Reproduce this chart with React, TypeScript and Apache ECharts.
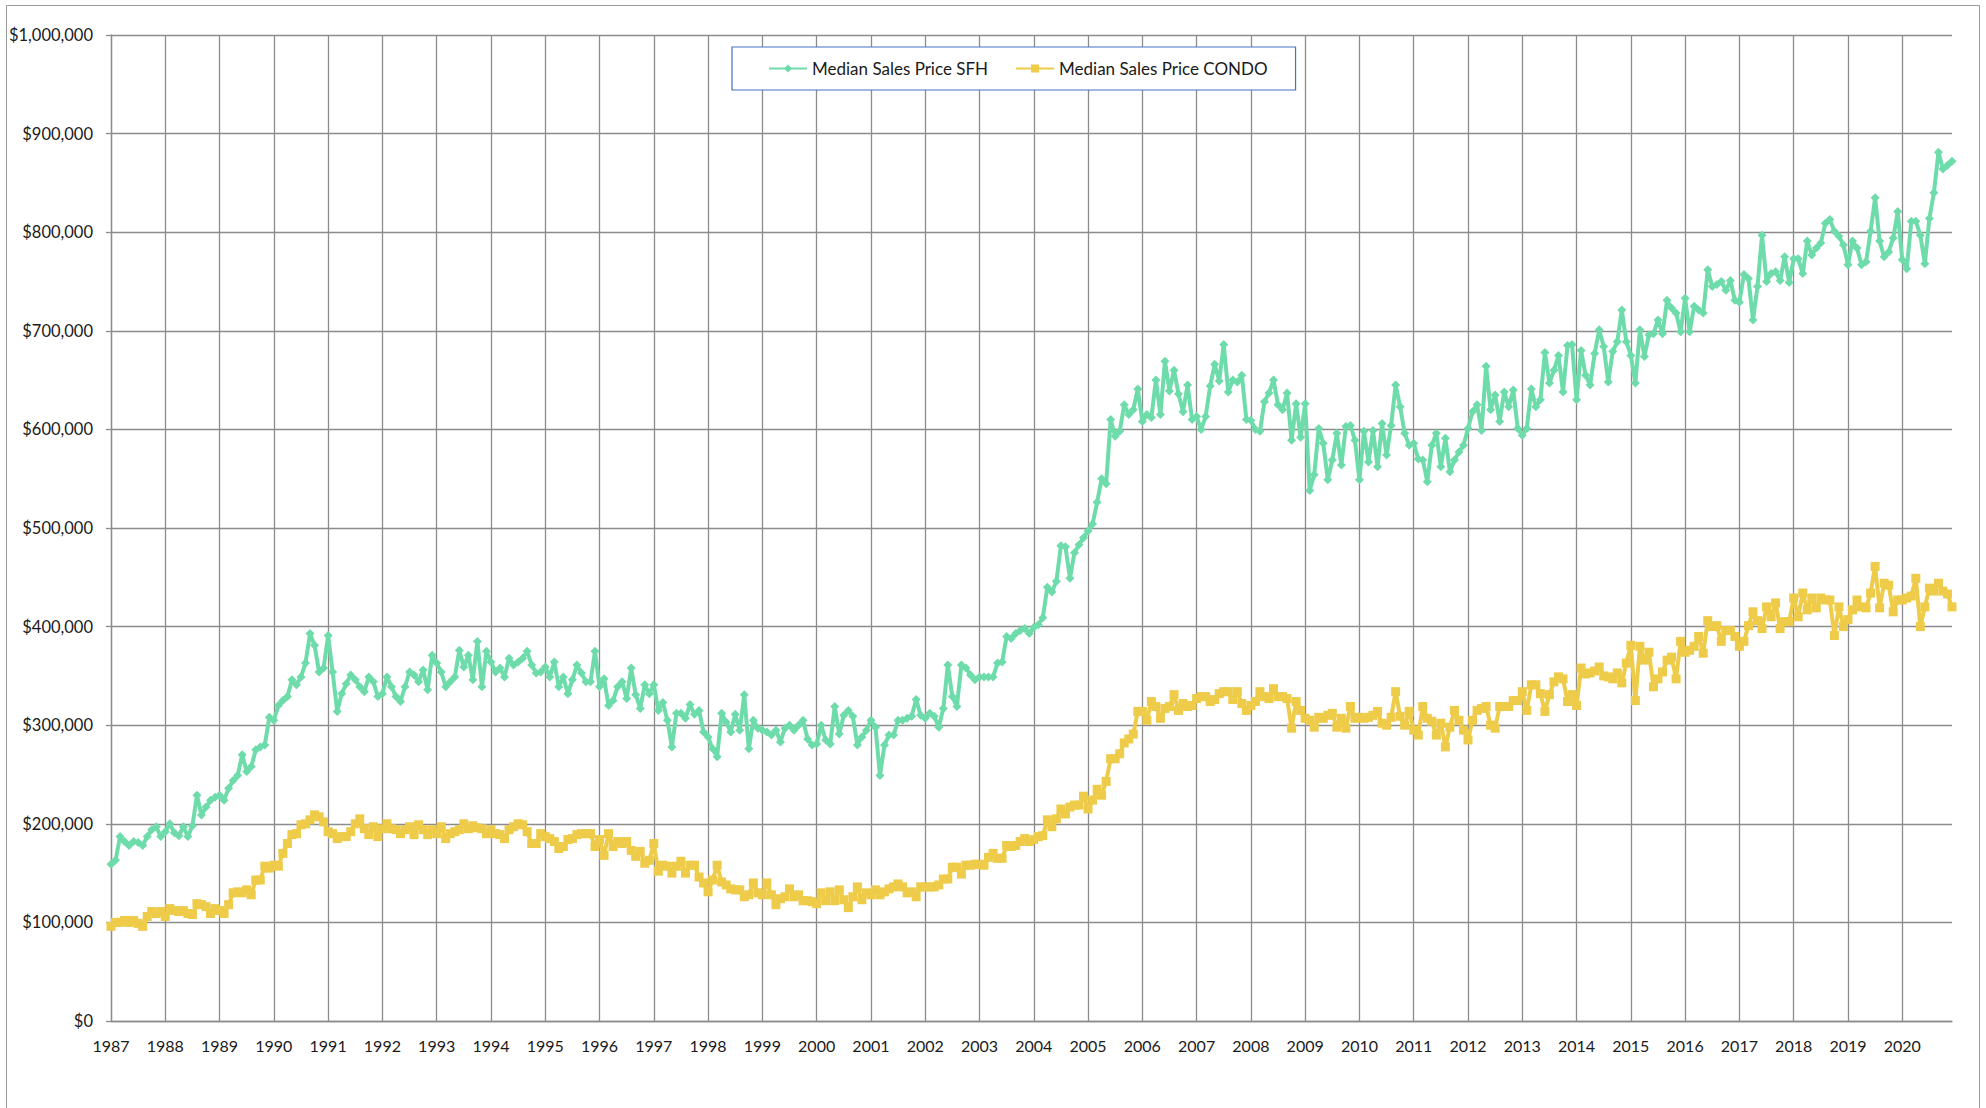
import React, { useEffect, useRef } from "react";
import * as echarts from "echarts";

// Years shown on the category axis (one label per January)
const YEARS = [
  1987, 1988, 1989, 1990, 1991, 1992, 1993, 1994, 1995, 1996, 1997, 1998,
  1999, 2000, 2001, 2002, 2003, 2004, 2005, 2006, 2007, 2008, 2009, 2010,
  2011, 2012, 2013, 2014, 2015, 2016, 2017, 2018, 2019, 2020,
];
const MONTHS = ["01", "02", "03", "04", "05", "06", "07", "08", "09", "10", "11", "12"];

// Median Sales Price SFH, monthly, in thousands of dollars
const SFH_1987_1996 = [
  159, 163, 187, 182, 178, 182, 181, 178, 187, 194, 197, 187,
  192, 200, 191, 188, 197, 187, 198, 229, 209, 217, 224, 227,
  229, 224, 236, 244, 249, 270, 253, 258, 275, 278, 280, 308,
  305, 320, 325, 329, 346, 341, 349, 363, 393, 381, 354, 358,
  391, 354, 314, 332, 342, 351, 346, 339, 334, 349, 344, 329,
  332, 349, 339, 329, 324, 339, 354, 351, 344, 356, 336, 371,
  363, 354, 339, 344, 349, 376, 359, 371, 346, 385, 339, 375,
  364, 354, 358, 349, 368, 361, 364, 368, 375, 361, 353, 354,
  359, 349, 364, 339, 349, 332, 346, 361, 353, 344, 344, 375,
  339, 347, 320, 325, 339, 344, 327, 358, 331, 317, 341, 332,
];
const SFH_1997_2006 = [
  341, 315, 323, 305, 278, 312, 312, 307, 321, 311, 315, 293,
  288, 276, 268, 312, 303, 293, 311, 295, 331, 276, 305, 297,
  295, 293, 290, 295, 283, 297, 300, 295, 300, 305, 286, 280,
  281, 300, 285, 281, 319, 291, 310, 315, 309, 280, 288, 295,
  305, 298, 249, 280, 290, 290, 305, 305, 307, 309, 326, 310,
  307, 312, 309, 298, 317, 361, 329, 319, 361, 358, 351, 346,
  349, 349, 349, 349, 363, 364, 390, 388, 393, 396, 398, 393,
  399, 402, 409, 440, 435, 446, 482, 481, 449, 475, 483, 490,
  497, 504, 526, 550, 545, 610, 593, 598, 625, 615, 620, 641,
  608, 615, 612, 650, 615, 669, 639, 660, 636, 618, 645, 610,
];
const SFH_2007_2016 = [
  613, 600, 613, 644, 666, 649, 686, 638, 650, 648, 655, 610,
  609, 600, 598, 628, 637, 650, 625, 620, 637, 589, 626, 592,
  626, 538, 554, 601, 586, 549, 569, 596, 564, 603, 604, 589,
  549, 598, 567, 599, 562, 606, 574, 604, 645, 623, 596, 584,
  586, 570, 569, 547, 584, 596, 562, 591, 557, 569, 577, 584,
  601, 618, 625, 599, 664, 620, 635, 608, 638, 623, 640, 601,
  594, 601, 641, 623, 630, 678, 647, 660, 675, 638, 685, 686,
  630, 680, 655, 645, 677, 701, 684, 648, 679, 689, 721, 689,
  675, 647, 701, 674, 696, 697, 711, 697, 731, 723, 718, 699,
  733, 699, 725, 721, 718, 762, 745, 747, 750, 741, 751, 731,
];
const SFH_2017_2020 = [
  729, 757, 753, 711, 745, 797, 750, 758, 760, 751, 775, 749,
  773, 773, 758, 791, 777, 784, 789, 809, 813, 801, 796, 787,
  767, 791, 784, 767, 770, 801, 835, 791, 775, 780, 794, 821,
  772, 763, 811, 811, 797, 768, 814, 840, 881, 864, 868, 872,
];

// Median Sales Price CONDO, monthly, in thousands of dollars
const CONDO_1987_1996 = [
  96, 100, 100, 102, 100, 102, 99, 96, 106, 111, 109, 111,
  106, 114, 112, 111, 112, 109, 108, 119, 118, 116, 109, 114,
  112, 109, 118, 130, 131, 130, 133, 128, 143, 143, 157, 155,
  158, 157, 170, 180, 189, 190, 199, 200, 204, 209, 207, 202,
  192, 190, 185, 187, 187, 192, 200, 205, 195, 189, 197, 187,
  195, 200, 195, 194, 190, 194, 197, 189, 199, 194, 189, 194,
  190, 197, 185, 190, 192, 194, 200, 195, 198, 196, 195, 190,
  194, 190, 189, 185, 194, 197, 200, 199, 192, 180, 180, 190,
  187, 185, 182, 175, 177, 184, 185, 189, 190, 190, 190, 177,
  184, 168, 190, 177, 182, 180, 182, 173, 167, 172, 160, 163,
];
const CONDO_1997_2006 = [
  180, 152, 158, 157, 150, 157, 162, 150, 158, 158, 146, 140,
  131, 143, 158, 141, 138, 134, 133, 133, 126, 128, 140, 130,
  128, 140, 128, 118, 124, 126, 134, 126, 128, 122, 122, 121,
  119, 130, 122, 131, 122, 133, 123, 115, 126, 136, 123, 130,
  128, 133, 128, 131, 134, 136, 139, 136, 130, 131, 126, 136,
  136, 136, 136, 138, 144, 144, 156, 156, 149, 158, 158, 159,
  159, 158, 166, 170, 165, 165, 178, 177, 178, 182, 185, 182,
  184, 187, 188, 204, 197, 205, 215, 210, 217, 219, 219, 228,
  215, 224, 235, 229, 243, 266, 266, 271, 282, 286, 291, 314,
  314, 305, 324, 319, 307, 317, 319, 331, 315, 322, 319, 320,
];
const CONDO_2007_2016 = [
  327, 329, 329, 324, 326, 332, 334, 334, 326, 334, 322, 315,
  320, 324, 334, 329, 327, 337, 329, 329, 327, 297, 324, 315,
  307, 305, 298, 308, 307, 310, 312, 298, 307, 297, 319, 307,
  308, 307, 308, 310, 314, 302, 300, 308, 334, 309, 300, 314,
  295, 290, 319, 307, 304, 290, 302, 278, 298, 315, 305, 295,
  285, 305, 315, 317, 319, 300, 297, 319, 319, 319, 325, 325,
  334, 315, 341, 341, 332, 314, 331, 344, 349, 347, 324, 331,
  320, 358, 352, 353, 355, 359, 350, 349, 347, 353, 343, 363,
  381, 325, 380, 366, 374, 339, 347, 354, 366, 369, 347, 385,
  374, 376, 380, 390, 373, 406, 400, 401, 385, 396, 396, 390,
];
const CONDO_2017_2020 = [
  380, 385, 401, 415, 406, 398, 420, 410, 424, 398, 405, 405,
  429, 410, 434, 417, 429, 419, 429, 427, 427, 391, 420, 400,
  407, 417, 427, 420, 419, 434, 461, 419, 444, 442, 415, 427,
  427, 429, 431, 449, 400, 420, 439, 436, 444, 436, 433, 420,
];

const SERIES_NAMES = ["Median Sales Price SFH", "Median Sales Price CONDO"];
const SERIES_COLORS = ["#6EDCAA", "#EECB48"];

const FONT = "Lato, 'Liberation Sans', sans-serif";

export default function App() {
  const ref = useRef<HTMLDivElement>(null);

  useEffect(() => {
    if (!ref.current) return;
    const chart = echarts.init(ref.current, undefined, { renderer: "svg" });

    const categories = YEARS.flatMap((y) => MONTHS.map((m) => `${y}-${m}`));
    const sfh = [...SFH_1987_1996, ...SFH_1997_2006, ...SFH_2007_2016, ...SFH_2017_2020];
    const condo = [...CONDO_1987_1996, ...CONDO_1997_2006, ...CONDO_2007_2016, ...CONDO_2017_2020];

    const gridColor = "#8c8c8c";

    chart.setOption({
      animation: false,
      backgroundColor: "#ffffff",
      graphic: [
        {
          type: "rect",
          shape: { x: 6.5, y: 5.5, width: 1973, height: 1200 },
          style: { fill: "none", stroke: "#9a9a9a", lineWidth: 1 },
          silent: true,
          z: -10,
        },
      ],
      grid: { left: 111, top: 35, right: 34, bottom: 87, containLabel: false },
      legend: {
        left: 732,
        top: 47,
        orient: "horizontal",
        padding: [13, 28, 13, 36],
        itemGap: 27,
        itemWidth: 38,
        itemHeight: 10,
        borderColor: "#4472C4",
        borderWidth: 1.2,
        backgroundColor: "#ffffff",
        textStyle: { fontSize: 17, fontFamily: FONT, color: "#1a1a1a" },
        data: SERIES_NAMES,
      },
      xAxis: {
        type: "category",
        data: categories,
        boundaryGap: false,
        axisLine: { show: true, lineStyle: { color: gridColor, width: 1.3 } },
        axisTick: { show: false },
        axisLabel: {
          interval: 11,
          formatter: (v: string) => v.slice(0, 4),
          fontSize: 16,
          fontFamily: FONT,
          color: "#1a1a1a",
          margin: 16,
        },
        splitLine: { show: true, interval: 11, lineStyle: { color: gridColor, width: 1.3 } },
      },
      yAxis: {
        type: "value",
        min: 0,
        max: 1000,
        interval: 100,
        axisLine: { show: true, lineStyle: { color: gridColor, width: 1.3 } },
        axisTick: { show: true, length: 5, lineStyle: { color: gridColor, width: 1.3 } },
        axisLabel: {
          formatter: (v: number) => "$" + (v * 1000).toLocaleString("en-US"),
          fontSize: 16.5,
          fontFamily: FONT,
          color: "#1a1a1a",
          margin: 18,
        },
        splitLine: { show: true, lineStyle: { color: gridColor, width: 1.3 } },
      },
      series: [
        {
          name: SERIES_NAMES[0],
          type: "line",
          data: sfh,
          symbol: "diamond",
          symbolSize: 9,
          showAllSymbol: true,
          lineStyle: { width: 4, color: SERIES_COLORS[0] },
          itemStyle: { color: SERIES_COLORS[0] },
          z: 3,
        },
        {
          name: SERIES_NAMES[1],
          type: "line",
          data: condo,
          symbol: "rect",
          symbolSize: 9,
          showAllSymbol: true,
          lineStyle: { width: 4, color: SERIES_COLORS[1] },
          itemStyle: { color: SERIES_COLORS[1] },
          z: 4,
        },
      ],
    });

    return () => chart.dispose();
  }, []);

  return (
    <div
      ref={ref}
      style={{ position: "absolute", left: 0, top: 0, width: 1986, height: 1108 }}
    />
  );
}
